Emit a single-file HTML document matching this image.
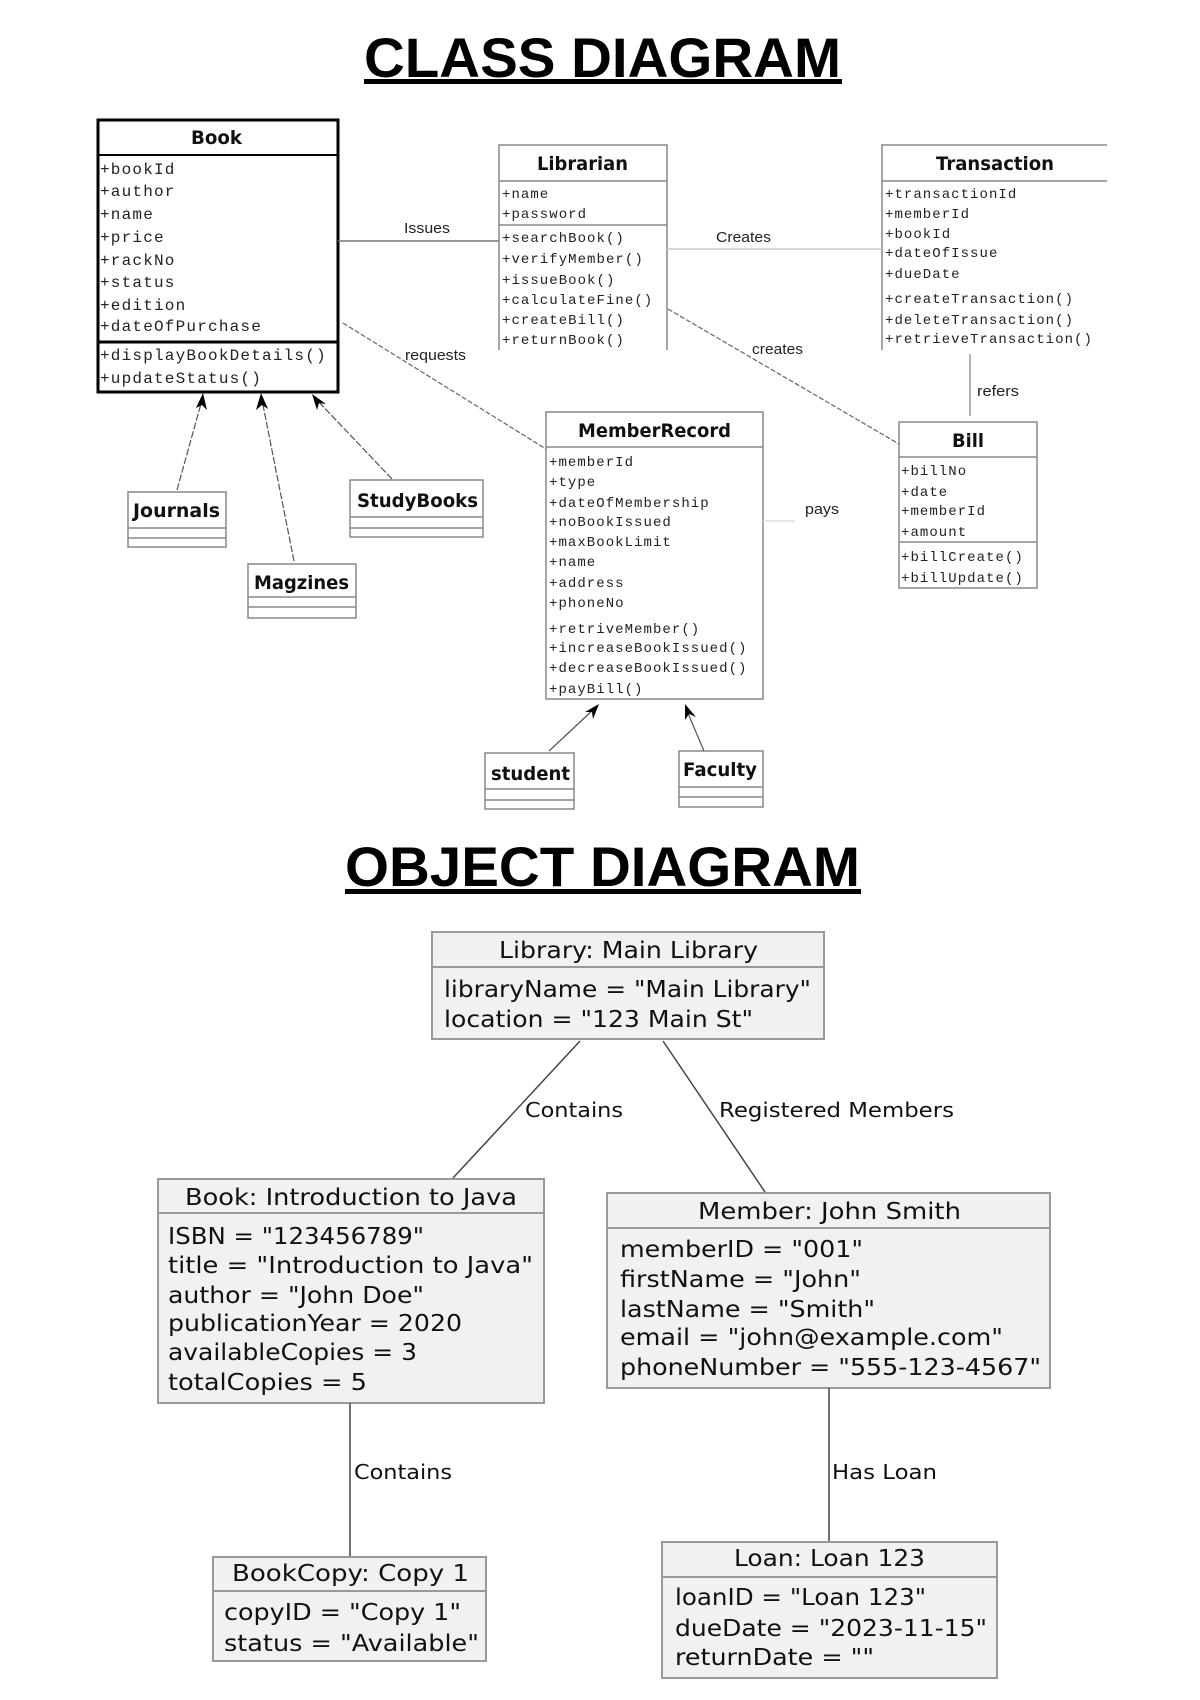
<!DOCTYPE html>
<html><head><meta charset="utf-8"><style>
html,body{margin:0;padding:0;background:#fff;}
svg{display:block;}
.t{font-family:"Liberation Sans",sans-serif;font-weight:bold;font-size:56px;fill:#000;}
.h{font-family:"DejaVu Sans",sans-serif;font-weight:bold;font-size:19px;fill:#111;}
.m{font-family:"Liberation Mono",monospace;font-size:14px;letter-spacing:1.05px;fill:#222;}
.mb{font-family:"Liberation Mono",monospace;font-size:16px;letter-spacing:1.2px;fill:#222;}
.l{font-family:"Liberation Sans",sans-serif;font-size:15px;fill:#222;}
.o{font-family:"DejaVu Sans",sans-serif;font-size:23px;fill:#111;}
.ol{font-family:"DejaVu Sans",sans-serif;font-size:20px;fill:#111;}
</style></head><body>
<svg width="1200" height="1700" viewBox="0 0 1200 1700" xmlns="http://www.w3.org/2000/svg">
<!-- Titles -->
<text class="t" x="364" y="77" textLength="477" lengthAdjust="spacingAndGlyphs">CLASS DIAGRAM</text>
<rect x="364" y="79" width="478" height="5" fill="#000"/>
<text class="t" x="345" y="886" textLength="515" lengthAdjust="spacingAndGlyphs">OBJECT DIAGRAM</text>
<rect x="345" y="889" width="516" height="5" fill="#000"/>

<!-- Book -->
<rect x="98" y="120" width="240" height="272" fill="#fff" stroke="#000" stroke-width="3"/>
<line x1="98" y1="155" x2="338" y2="155" stroke="#000" stroke-width="2"/>
<line x1="98" y1="342" x2="338" y2="342" stroke="#000" stroke-width="3"/>
<text class="h" x="191" y="144" textLength="51" lengthAdjust="spacingAndGlyphs">Book</text>
<g class="mb">
<text x="100" y="174">+bookId</text>
<text x="100" y="196">+author</text>
<text x="100" y="219">+name</text>
<text x="100" y="242">+price</text>
<text x="100" y="265">+rackNo</text>
<text x="100" y="287">+status</text>
<text x="100" y="310">+edition</text>
<text x="100" y="331">+dateOfPurchase</text>
<text x="100" y="360">+displayBookDetails()</text>
<text x="100" y="383">+updateStatus()</text>
</g>

<!-- Librarian -->
<path d="M499 350 V145 H667 V350" fill="none" stroke="#888" stroke-width="1.5"/>
<line x1="499" y1="181" x2="667" y2="181" stroke="#888" stroke-width="1.5"/>
<line x1="499" y1="225" x2="667" y2="225" stroke="#888" stroke-width="1.5"/>
<text class="h" x="537" y="170" textLength="91" lengthAdjust="spacingAndGlyphs">Librarian</text>
<g class="m">
<text x="502" y="198">+name</text>
<text x="502" y="218">+password</text>
<text x="502" y="242">+searchBook()</text>
<text x="502" y="263">+verifyMember()</text>
<text x="502" y="284">+issueBook()</text>
<text x="502" y="304">+calculateFine()</text>
<text x="502" y="324">+createBill()</text>
<text x="502" y="344">+returnBook()</text>
</g>

<!-- Transaction -->
<path d="M882 350 V145 H1107" fill="none" stroke="#888" stroke-width="1.5"/>
<line x1="882" y1="181" x2="1107" y2="181" stroke="#888" stroke-width="1.5"/>
<text class="h" x="936" y="170" textLength="118" lengthAdjust="spacingAndGlyphs">Transaction</text>
<g class="m">
<text x="885" y="198">+transactionId</text>
<text x="885" y="218">+memberId</text>
<text x="885" y="238">+bookId</text>
<text x="885" y="257">+dateOfIssue</text>
<text x="885" y="278">+dueDate</text>
<text x="885" y="303">+createTransaction()</text>
<text x="885" y="324">+deleteTransaction()</text>
<text x="885" y="343">+retrieveTransaction()</text>
</g>

<!-- Bill -->
<rect x="899" y="422" width="138" height="166" fill="#fff" stroke="#888" stroke-width="1.5"/>
<line x1="899" y1="457" x2="1037" y2="457" stroke="#888" stroke-width="1.5"/>
<line x1="899" y1="542" x2="1037" y2="542" stroke="#888" stroke-width="1.5"/>
<text class="h" x="952" y="447" textLength="32" lengthAdjust="spacingAndGlyphs">Bill</text>
<g class="m">
<text x="901" y="475">+billNo</text>
<text x="901" y="496">+date</text>
<text x="901" y="515">+memberId</text>
<text x="901" y="536">+amount</text>
<text x="901" y="561">+billCreate()</text>
<text x="901" y="582">+billUpdate()</text>
</g>

<!-- MemberRecord -->
<rect x="546" y="412" width="217" height="287" fill="#fff" stroke="#888" stroke-width="1.5"/>
<line x1="546" y1="447" x2="763" y2="447" stroke="#888" stroke-width="1.5"/>
<text class="h" x="578" y="437" textLength="153" lengthAdjust="spacingAndGlyphs">MemberRecord</text>
<g class="m">
<text x="549" y="466">+memberId</text>
<text x="549" y="486">+type</text>
<text x="549" y="507">+dateOfMembership</text>
<text x="549" y="526">+noBookIssued</text>
<text x="549" y="546">+maxBookLimit</text>
<text x="549" y="566">+name</text>
<text x="549" y="587">+address</text>
<text x="549" y="607">+phoneNo</text>
<text x="549" y="633">+retriveMember()</text>
<text x="549" y="652">+increaseBookIssued()</text>
<text x="549" y="672">+decreaseBookIssued()</text>
<text x="549" y="693">+payBill()</text>
</g>

<!-- small classes -->
<g fill="#fff" stroke="#888" stroke-width="1.5">
<rect x="128" y="492" width="98" height="55"/>
<line x1="128" y1="528" x2="226" y2="528"/><line x1="128" y1="538" x2="226" y2="538"/>
<rect x="248" y="564" width="108" height="54"/>
<line x1="248" y1="597" x2="356" y2="597"/><line x1="248" y1="607" x2="356" y2="607"/>
<rect x="350" y="480" width="133" height="57"/>
<line x1="350" y1="517" x2="483" y2="517"/><line x1="350" y1="528" x2="483" y2="528"/>
<rect x="485" y="753" width="89" height="56"/>
<line x1="485" y1="789" x2="574" y2="789"/><line x1="485" y1="800" x2="574" y2="800"/>
<rect x="679" y="751" width="84" height="56"/>
<line x1="679" y1="787" x2="763" y2="787"/><line x1="679" y1="797" x2="763" y2="797"/>
</g>
<text class="h" x="133" y="517" textLength="87" lengthAdjust="spacingAndGlyphs">Journals</text>
<text class="h" x="254" y="589" textLength="95" lengthAdjust="spacingAndGlyphs">Magzines</text>
<text class="h" x="357" y="507" textLength="121" lengthAdjust="spacingAndGlyphs">StudyBooks</text>
<text class="h" x="491" y="780" textLength="79" lengthAdjust="spacingAndGlyphs">student</text>
<text class="h" x="683" y="776" textLength="74" lengthAdjust="spacingAndGlyphs">Faculty</text>

<!-- connectors class -->
<line x1="338" y1="241" x2="499" y2="241" stroke="#777" stroke-width="1.5"/>
<text class="l" x="404" y="233" textLength="46" lengthAdjust="spacingAndGlyphs">Issues</text>
<line x1="667" y1="249" x2="882" y2="249" stroke="#ccc" stroke-width="1.5"/>
<text class="l" x="716" y="242" textLength="55" lengthAdjust="spacingAndGlyphs">Creates</text>
<line x1="668" y1="309" x2="899" y2="444" stroke="#666" stroke-width="1.2" stroke-dasharray="5,2"/>
<text class="l" x="752" y="354" textLength="51" lengthAdjust="spacingAndGlyphs">creates</text>
<line x1="343" y1="323" x2="546" y2="449" stroke="#666" stroke-width="1.2" stroke-dasharray="5,2"/>
<text class="l" x="405" y="360" textLength="61" lengthAdjust="spacingAndGlyphs">requests</text>
<line x1="970" y1="354" x2="970" y2="416" stroke="#999" stroke-width="1.5"/>
<text class="l" x="977" y="396" textLength="42" lengthAdjust="spacingAndGlyphs">refers</text>
<line x1="763" y1="521" x2="795" y2="521" stroke="#ddd" stroke-width="1.5"/>
<text class="l" x="805" y="514" textLength="34" lengthAdjust="spacingAndGlyphs">pays</text>

<!-- inheritance arrows -->
<g stroke="#555" stroke-width="1.2" fill="none">
<line x1="177" y1="490" x2="202" y2="400" stroke-dasharray="7,2"/>
<line x1="294" y1="561" x2="262" y2="400" stroke-dasharray="7,2"/>
<line x1="392" y1="479" x2="316" y2="399" stroke-dasharray="7,2"/>
<line x1="549" y1="751" x2="594" y2="709"/>
<line x1="704" y1="751" x2="687" y2="711"/>
</g>
<g fill="#000">
<polygon points="203,393 207,410 202,405 196,408"/>
<polygon points="261,393 268,409 262,405 256,410"/>
<polygon points="312,394 326,404 319,403 317,410"/>
<polygon points="599,704 593,719 592,712 585,712"/>
<polygon points="685,704 696,717 689,714 685,720"/>
</g>

<!-- Object diagram -->
<g fill="#f1f1f1" stroke="#999" stroke-width="2">
<rect x="432" y="932" width="392" height="107"/>
<rect x="158" y="1179" width="386" height="224"/>
<rect x="607" y="1193" width="443" height="195"/>
<rect x="213" y="1557" width="273" height="104"/>
<rect x="662" y="1542" width="335" height="136"/>
</g>
<g stroke="#999" stroke-width="2">
<line x1="432" y1="967" x2="824" y2="967"/>
<line x1="158" y1="1213" x2="544" y2="1213"/>
<line x1="607" y1="1228" x2="1050" y2="1228"/>
<line x1="213" y1="1591" x2="486" y2="1591"/>
<line x1="662" y1="1577" x2="997" y2="1577"/>
</g>
<g class="o">
<text x="499" y="958" textLength="259" lengthAdjust="spacingAndGlyphs">Library: Main Library</text>
<text x="444" y="997" textLength="367" lengthAdjust="spacingAndGlyphs">libraryName = "Main Library"</text>
<text x="444" y="1027" textLength="309" lengthAdjust="spacingAndGlyphs">location = "123 Main St"</text>

<text x="185" y="1205" textLength="332" lengthAdjust="spacingAndGlyphs">Book: Introduction to Java</text>
<text x="168" y="1244" textLength="256" lengthAdjust="spacingAndGlyphs">ISBN = "123456789"</text>
<text x="168" y="1273" textLength="365" lengthAdjust="spacingAndGlyphs">title = "Introduction to Java"</text>
<text x="168" y="1303" textLength="256" lengthAdjust="spacingAndGlyphs">author = "John Doe"</text>
<text x="168" y="1331" textLength="294" lengthAdjust="spacingAndGlyphs">publicationYear = 2020</text>
<text x="168" y="1360" textLength="249" lengthAdjust="spacingAndGlyphs">availableCopies = 3</text>
<text x="168" y="1390" textLength="199" lengthAdjust="spacingAndGlyphs">totalCopies = 5</text>

<text x="698" y="1219" textLength="263" lengthAdjust="spacingAndGlyphs">Member: John Smith</text>
<text x="620" y="1257" textLength="243" lengthAdjust="spacingAndGlyphs">memberID = "001"</text>
<text x="620" y="1287" textLength="241" lengthAdjust="spacingAndGlyphs">firstName = "John"</text>
<text x="620" y="1317" textLength="255" lengthAdjust="spacingAndGlyphs">lastName = "Smith"</text>
<text x="620" y="1345" textLength="383" lengthAdjust="spacingAndGlyphs">email = "john@example.com"</text>
<text x="620" y="1375" textLength="421" lengthAdjust="spacingAndGlyphs">phoneNumber = "555-123-4567"</text>

<text x="232" y="1581" textLength="237" lengthAdjust="spacingAndGlyphs">BookCopy: Copy 1</text>
<text x="224" y="1620" textLength="237" lengthAdjust="spacingAndGlyphs">copyID = "Copy 1"</text>
<text x="224" y="1651" textLength="255" lengthAdjust="spacingAndGlyphs">status = "Available"</text>

<text x="734" y="1566" textLength="191" lengthAdjust="spacingAndGlyphs">Loan: Loan 123</text>
<text x="675" y="1605" textLength="251" lengthAdjust="spacingAndGlyphs">loanID = "Loan 123"</text>
<text x="675" y="1636" textLength="312" lengthAdjust="spacingAndGlyphs">dueDate = "2023-11-15"</text>
<text x="675" y="1665" textLength="199" lengthAdjust="spacingAndGlyphs">returnDate = ""</text>
</g>
<g stroke="#444" stroke-width="1.5">
<line x1="580" y1="1041" x2="453" y2="1178"/>
<line x1="663" y1="1041" x2="765" y2="1192"/>
<line x1="350" y1="1403" x2="350" y2="1556"/>
<line x1="829" y1="1388" x2="829" y2="1541"/>
</g>
<g class="ol">
<text x="525" y="1117" textLength="98" lengthAdjust="spacingAndGlyphs">Contains</text>
<text x="719" y="1117" textLength="235" lengthAdjust="spacingAndGlyphs">Registered Members</text>
<text x="354" y="1479" textLength="98" lengthAdjust="spacingAndGlyphs">Contains</text>
<text x="832" y="1479" textLength="105" lengthAdjust="spacingAndGlyphs">Has Loan</text>
</g>
</svg>
</body></html>
